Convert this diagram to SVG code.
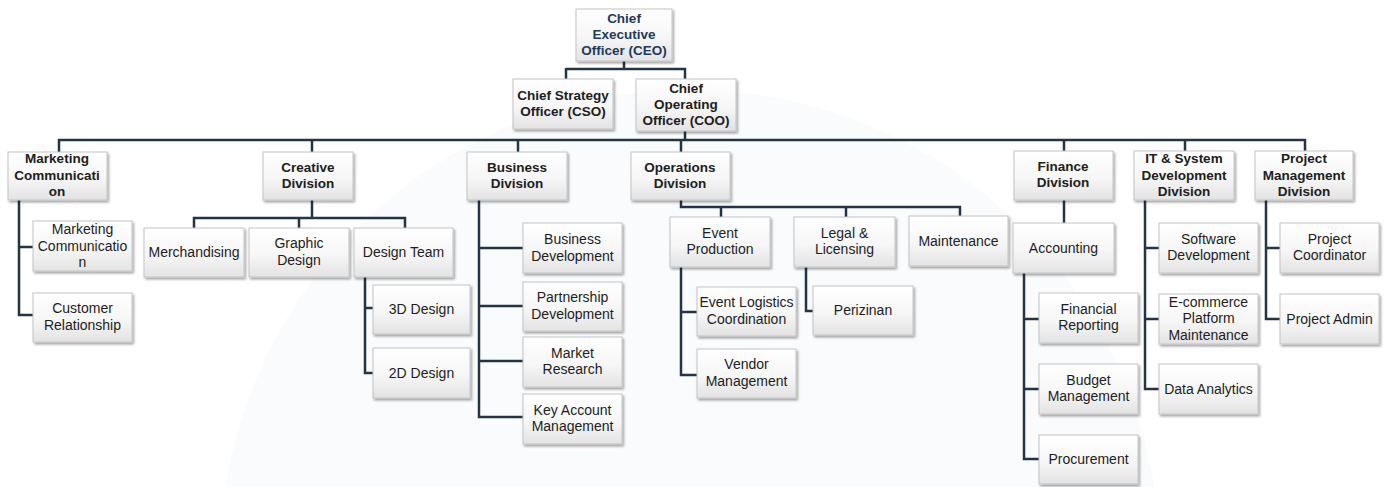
<svg xmlns="http://www.w3.org/2000/svg" width="1391" height="487" viewBox="0 0 1391 487">
  <defs>
    <linearGradient id="boxFill" x1="0" y1="0" x2="0" y2="1">
      <stop offset="0" stop-color="#ffffff"/>
      <stop offset="0.55" stop-color="#f6f6f6"/>
      <stop offset="1" stop-color="#e3e3e3"/>
    </linearGradient>
    <filter id="shadow" x="-10%" y="-10%" width="125%" height="135%">
      <feDropShadow dx="1.5" dy="2" stdDeviation="1.3" flood-color="#000" flood-opacity="0.35"/>
    </filter>
    <style>
      .box { fill: url(#boxFill); stroke: #c4c4c4; stroke-width: 1; filter: url(#shadow); }
      .t { font-family: "Liberation Sans", Arial, sans-serif; font-size: 14px; fill: #1d1d1d; text-anchor: middle; }
      .b { font-weight: bold; font-size: 13.5px; fill: #202020; }
      .ceo { fill: #1f3a5c; }
      .link { fill: none; stroke: #253444; stroke-width: 2.5; stroke-linejoin: miter; stroke-linecap: butt; }
    </style>
  </defs>

  <rect width="1391" height="487" fill="#ffffff"/>
  <!-- faint background emblem -->
  <g fill="#fafbfc">
    <circle cx="690" cy="560" r="470"/>
  </g>

  <!-- connectors -->
  <g id="connectors" class="link">
    <path d="M624,61 V69 M566,69 H686 M566,68 V79 M685,68 V79"/>
    <path d="M685,131 V140"/>
    <path d="M58,140 H1306 M59,139 V152 M312,139 V152 M518,139 V152 M681,139 V152 M1064,139 V151 M1185,139 V151 M1305,139 V151"/>
    <path d="M19,200 V315 H33 M18,247 H33"/>
    <path d="M312,200 V218 M193,218 H406 M194,217 V228 M299,217 V228 M405,217 V228"/>
    <path d="M365,277 V373 H373 M364,308 H373"/>
    <path d="M479,200 V417 H523 M478,248 H523 M478,306 H523 M478,361 H523"/>
    <path d="M681,200 V207 H961 M721,206 V217 M846,206 V217 M960,206 V217"/>
    <path d="M681,267 V375 H697 M680,312 H697"/>
    <path d="M806,267 V311 H813"/>
    <path d="M1064,200 V223"/>
    <path d="M1024,273 V459 H1039 M1023,319 H1039 M1023,389 H1039"/>
    <path d="M1145,200 V389 H1159 M1144,248 H1159 M1144,319 H1159"/>
    <path d="M1266,200 V319 H1280 M1265,248 H1280"/>
  </g>

  <!-- executive level -->
  <g id="ceo">
    <rect class="box" x="576" y="9" width="96" height="52"/>
    <text class="t b ceo" x="624"><tspan x="624" y="23">Chief</tspan><tspan x="624" y="39">Executive</tspan><tspan x="624" y="55">Officer (CEO)</tspan></text>
  </g>
  <g id="cso">
    <rect class="box" x="513" y="79" width="100" height="50"/>
    <text class="t b" x="563"><tspan x="563" y="100">Chief Strategy</tspan><tspan x="563" y="116">Officer (CSO)</tspan></text>
  </g>
  <g id="coo">
    <rect class="box" x="636" y="79" width="100" height="52"/>
    <text class="t b" x="686"><tspan x="686" y="93">Chief</tspan><tspan x="686" y="109">Operating</tspan><tspan x="686" y="125">Officer (COO)</tspan></text>
  </g>

  <!-- divisions -->
  <g id="div-marketing">
    <rect class="box" x="8" y="152" width="99" height="48"/>
    <text class="t b" x="57"><tspan x="57" y="163">Marketing</tspan><tspan x="57" y="179.5">Communicati</tspan><tspan x="57" y="196">on</tspan></text>
  </g>
  <g id="div-creative">
    <rect class="box" x="263" y="152" width="90" height="48"/>
    <text class="t b" x="308"><tspan x="308" y="172">Creative</tspan><tspan x="308" y="188">Division</tspan></text>
  </g>
  <g id="div-business">
    <rect class="box" x="467" y="152" width="100" height="48"/>
    <text class="t b" x="517"><tspan x="517" y="172">Business</tspan><tspan x="517" y="188">Division</tspan></text>
  </g>
  <g id="div-operations">
    <rect class="box" x="631" y="152" width="99" height="48"/>
    <text class="t b" x="680"><tspan x="680" y="172">Operations</tspan><tspan x="680" y="188">Division</tspan></text>
  </g>
  <g id="div-finance">
    <rect class="box" x="1014" y="151" width="99" height="49"/>
    <text class="t b" x="1063"><tspan x="1063" y="171">Finance</tspan><tspan x="1063" y="187">Division</tspan></text>
  </g>
  <g id="div-it">
    <rect class="box" x="1134" y="151" width="100" height="49"/>
    <text class="t b" x="1184"><tspan x="1184" y="163">IT &amp; System</tspan><tspan x="1184" y="179.5">Development</tspan><tspan x="1184" y="196">Division</tspan></text>
  </g>
  <g id="div-pm">
    <rect class="box" x="1255" y="151" width="98" height="49"/>
    <text class="t b" x="1304"><tspan x="1304" y="163">Project</tspan><tspan x="1304" y="179.5">Management</tspan><tspan x="1304" y="196">Division</tspan></text>
  </g>

  <!-- marketing units -->
  <g id="mk-comm">
    <rect class="box" x="33" y="221" width="99" height="50"/>
    <text class="t" x="82.5"><tspan x="82.5" y="234">Marketing</tspan><tspan x="82.5" y="250.5">Communicatio</tspan><tspan x="82.5" y="267">n</tspan></text>
  </g>
  <g id="mk-customer">
    <rect class="box" x="33" y="293" width="99" height="49"/>
    <text class="t" x="82.5"><tspan x="82.5" y="313">Customer</tspan><tspan x="82.5" y="329.5">Relationship</tspan></text>
  </g>

  <!-- creative units -->
  <g id="cr-merch">
    <rect class="box" x="144" y="228" width="100" height="49"/>
    <text class="t" x="194" y="257">Merchandising</text>
  </g>
  <g id="cr-graphic">
    <rect class="box" x="249" y="228" width="100" height="49"/>
    <text class="t" x="299"><tspan x="299" y="248">Graphic</tspan><tspan x="299" y="264.5">Design</tspan></text>
  </g>
  <g id="cr-team">
    <rect class="box" x="354" y="228" width="99" height="49"/>
    <text class="t" x="403.5" y="257">Design Team</text>
  </g>
  <g id="cr-3d">
    <rect class="box" x="373" y="285" width="97" height="49"/>
    <text class="t" x="421.5" y="314">3D Design</text>
  </g>
  <g id="cr-2d">
    <rect class="box" x="373" y="348" width="97" height="50"/>
    <text class="t" x="421.5" y="378">2D Design</text>
  </g>

  <!-- business units -->
  <g id="bz-dev">
    <rect class="box" x="523" y="223" width="99" height="50"/>
    <text class="t" x="572.5"><tspan x="572.5" y="244">Business</tspan><tspan x="572.5" y="260.5">Development</tspan></text>
  </g>
  <g id="bz-partner">
    <rect class="box" x="523" y="282" width="99" height="49"/>
    <text class="t" x="572.5"><tspan x="572.5" y="302">Partnership</tspan><tspan x="572.5" y="318.5">Development</tspan></text>
  </g>
  <g id="bz-market">
    <rect class="box" x="523" y="337" width="99" height="50"/>
    <text class="t" x="572.5"><tspan x="572.5" y="357.5">Market</tspan><tspan x="572.5" y="374">Research</tspan></text>
  </g>
  <g id="bz-key">
    <rect class="box" x="523" y="394" width="99" height="50"/>
    <text class="t" x="572.5"><tspan x="572.5" y="414.5">Key Account</tspan><tspan x="572.5" y="431">Management</tspan></text>
  </g>

  <!-- operations units -->
  <g id="op-event">
    <rect class="box" x="670" y="217" width="100" height="50"/>
    <text class="t" x="720"><tspan x="720" y="237.5">Event</tspan><tspan x="720" y="254">Production</tspan></text>
  </g>
  <g id="op-legal">
    <rect class="box" x="794" y="217" width="101" height="50"/>
    <text class="t" x="844.5"><tspan x="844.5" y="237.5">Legal &amp;</tspan><tspan x="844.5" y="254">Licensing</tspan></text>
  </g>
  <g id="op-maint">
    <rect class="box" x="909" y="216" width="99" height="50"/>
    <text class="t" x="958.5" y="246">Maintenance</text>
  </g>
  <g id="op-logistics">
    <rect class="box" x="697" y="287" width="99" height="49"/>
    <text class="t" x="746.5"><tspan x="746.5" y="307">Event Logistics</tspan><tspan x="746.5" y="323.5">Coordination</tspan></text>
  </g>
  <g id="op-vendor">
    <rect class="box" x="697" y="349" width="99" height="49"/>
    <text class="t" x="746.5"><tspan x="746.5" y="369">Vendor</tspan><tspan x="746.5" y="385.5">Management</tspan></text>
  </g>
  <g id="op-perizinan">
    <rect class="box" x="813" y="286" width="100" height="49"/>
    <text class="t" x="863" y="315">Perizinan</text>
  </g>

  <!-- finance units -->
  <g id="fn-accounting">
    <rect class="box" x="1013" y="223" width="101" height="50"/>
    <text class="t" x="1063.5" y="253">Accounting</text>
  </g>
  <g id="fn-reporting">
    <rect class="box" x="1039" y="293" width="99" height="50"/>
    <text class="t" x="1088.5"><tspan x="1088.5" y="313.5">Financial</tspan><tspan x="1088.5" y="330">Reporting</tspan></text>
  </g>
  <g id="fn-budget">
    <rect class="box" x="1039" y="364" width="99" height="50"/>
    <text class="t" x="1088.5"><tspan x="1088.5" y="384.5">Budget</tspan><tspan x="1088.5" y="401">Management</tspan></text>
  </g>
  <g id="fn-procurement">
    <rect class="box" x="1039" y="435" width="99" height="49"/>
    <text class="t" x="1088.5" y="464">Procurement</text>
  </g>

  <!-- IT units -->
  <g id="it-software">
    <rect class="box" x="1159" y="223" width="99" height="50"/>
    <text class="t" x="1208.5"><tspan x="1208.5" y="243.5">Software</tspan><tspan x="1208.5" y="260">Development</tspan></text>
  </g>
  <g id="it-ecommerce">
    <rect class="box" x="1159" y="294" width="99" height="50"/>
    <text class="t" x="1208.5"><tspan x="1208.5" y="306.5">E-commerce</tspan><tspan x="1208.5" y="323">Platform</tspan><tspan x="1208.5" y="339.5">Maintenance</tspan></text>
  </g>
  <g id="it-data">
    <rect class="box" x="1159" y="364" width="99" height="50"/>
    <text class="t" x="1208.5" y="394">Data Analytics</text>
  </g>

  <!-- project management units -->
  <g id="pm-coordinator">
    <rect class="box" x="1280" y="223" width="99" height="50"/>
    <text class="t" x="1329.5"><tspan x="1329.5" y="243.5">Project</tspan><tspan x="1329.5" y="260">Coordinator</tspan></text>
  </g>
  <g id="pm-admin">
    <rect class="box" x="1280" y="294" width="99" height="50"/>
    <text class="t" x="1329.5" y="324">Project Admin</text>
  </g>
</svg>
